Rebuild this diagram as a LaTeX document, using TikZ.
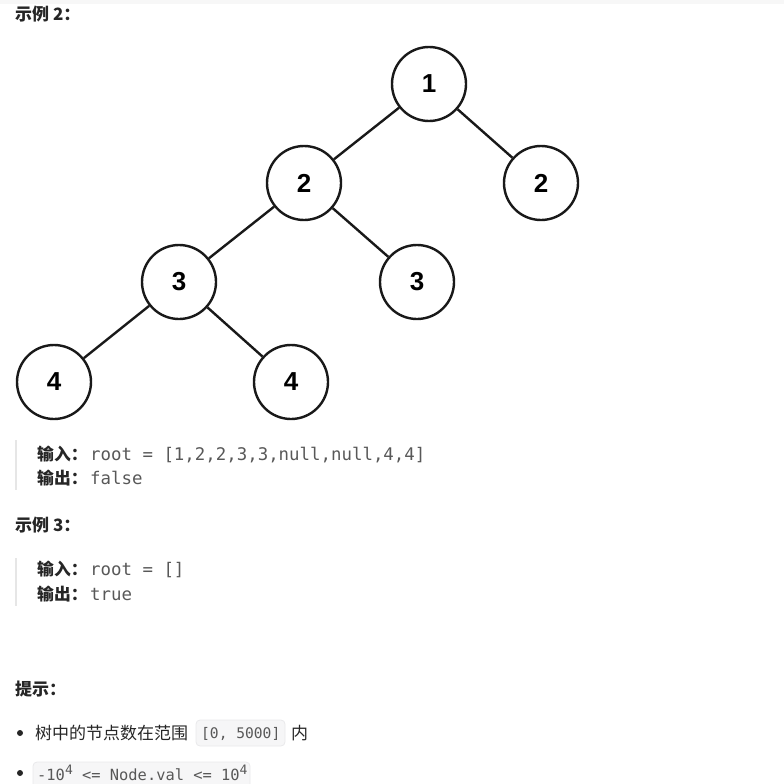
\documentclass[tikz,border=0pt]{standalone}
\usepackage{fontspec}
\setmainfont{Noto Sans CJK SC}
\setmonofont{DejaVu Sans Mono}
\newfontfamily\nodefont{Liberation Sans}
\definecolor{codegray}{HTML}{585858}
\definecolor{barcol}{HTML}{E6E6E6}
\definecolor{codebg}{HTML}{F6F6F7}
\definecolor{codeborder}{HTML}{E9E9EB}
\definecolor{topstrip}{HTML}{F7F7F7}
\begin{document}
\begin{tikzpicture}[x=1pt,y=-1pt,
  treenode/.style={circle,draw=black!90,line width=2.4pt,minimum size=74pt,inner sep=0pt,
    font=\nodefont\bfseries\fontsize{26}{26}\selectfont},
  edge/.style={line width=2.4pt,draw=black!90},
  txt/.style={anchor=base west,inner sep=0pt,text=black!85},
  head/.style={txt,font=\bfseries\fontsize{17}{17}\selectfont},
  lab/.style={txt,font=\bfseries\fontsize{16.8}{16.8}\selectfont},
  code/.style={anchor=base west,inner sep=0pt,text=codegray,font=\ttfamily\fontsize{17.4}{17.4}\selectfont},
  scode/.style={anchor=base west,inner sep=0pt,text=codegray,font=\ttfamily\fontsize{14.6}{14.6}\selectfont},
  body/.style={txt,font=\fontsize{17}{17}\selectfont},
  qbar/.style={line width=2pt,draw=barcol},
  cbox/.style={rounded corners=4pt,fill=codebg,draw=codeborder,line width=0.8pt},
  bullet/.style={circle,fill=black!85,inner sep=0pt,minimum size=6pt}]
\useasboundingbox (0,0) rectangle (784,784);
\fill[topstrip] (0,0) rectangle (784,4);

\node[head] (h2) at (15,21) {示例 2：};

% tree
\node[treenode] (a) at (429,84) {1};
\node[treenode] (b) at (304,183) {2};
\node[treenode] (c) at (541,183) {2};
\node[treenode] (d) at (179,282) {3};
\node[treenode] (e) at (417,282) {3};
\node[treenode] (f) at (54,382) {4};
\node[treenode] (g) at (291,382) {4};
\draw[edge] (a) -- (b);
\draw[edge] (a) -- (c);
\draw[edge] (b) -- (d);
\draw[edge] (b) -- (e);
\draw[edge] (d) -- (f);
\draw[edge] (d) -- (g);

% example 2 block
\coordinate (q1t) at (16,440);
\coordinate (q1b) at (16,490);
\draw[qbar] (q1t) -- (q1b);
\node[lab] (in2) at (37,460) {输入：};
\node[code] (in2c) at (90,460) {root = [1,2,2,3,3,null,null,4,4]};
\node[lab] (out2) at (37,484) {输出：};
\node[code] (out2c) at (90,484) {false};

% example 3
\node[head] (h3) at (15,531) {示例 3：};
\coordinate (q2t) at (16,558);
\coordinate (q2b) at (16,606);
\draw[qbar] (q2t) -- (q2b);
\node[lab] (in3) at (37,575) {输入：};
\node[code] (in3c) at (90,575) {root = []};
\node[lab] (out3) at (37,600) {输出：};
\node[code] (out3c) at (90,600) {true};

% hints
\node[head] (h4) at (15,695) {提示：};
\node[bullet] (b1) at (20,733) {};
\node[body] (t1) at (35,739) {树中的节点数在范围};
\draw[cbox] (196,720) rectangle (285,746);
\node[scode] (t1c) at (201,738) {[0, 5000]};
\node[body] (t1e) at (291,739) {内};
\node[bullet] (b2) at (20,773) {};
\draw[cbox] (33,762) rectangle (250,792);
\node[scode,font=\ttfamily\fontsize{15.4}{15.4}\selectfont] (t2c) at (37,780) {-10\raisebox{0.6ex}{\fontsize{13}{13}\selectfont 4} <= Node.val <= 10\raisebox{0.6ex}{\fontsize{13}{13}\selectfont 4}};
\end{tikzpicture}
\end{document}
